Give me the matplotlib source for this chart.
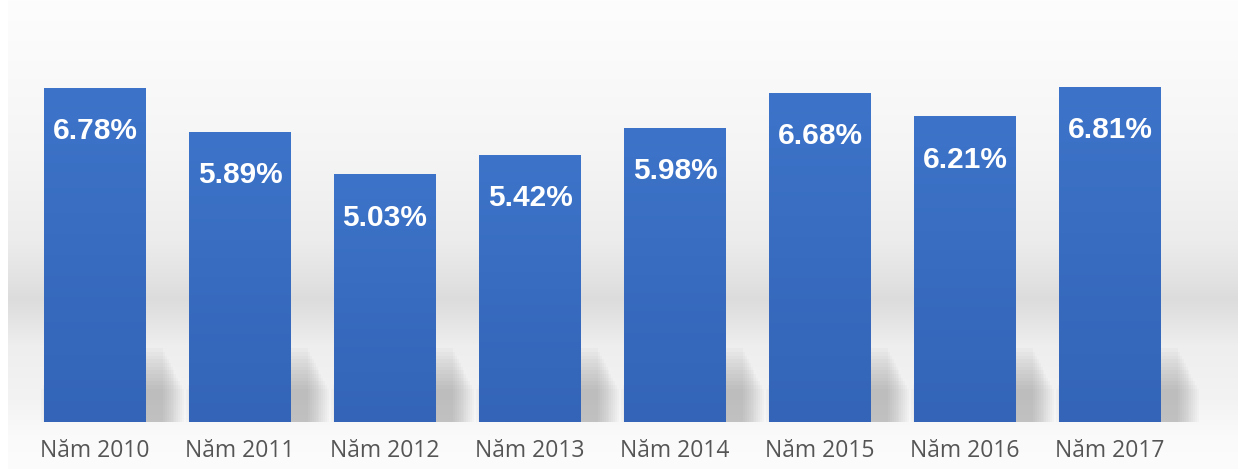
import numpy as np
import matplotlib
matplotlib.use("Agg")
import matplotlib.pyplot as plt
from matplotlib.colors import LinearSegmentedColormap

# Dữ liệu
years = ["Năm 2010", "Năm 2011", "Năm 2012", "Năm 2013",
         "Năm 2014", "Năm 2015", "Năm 2016", "Năm 2017"]
values = [6.78, 5.89, 5.03, 5.42, 5.98, 6.68, 6.21, 6.81]
value_labels = ["6.78%", "5.89%", "5.03%", "5.42%",
                "5.98%", "6.68%", "6.21%", "6.81%"]

W, H = 1238, 469
fig = plt.figure(figsize=(W / 100, H / 100), dpi=100)

# Nền gradient xám nhạt
ax_bg = fig.add_axes([0, 0, 1, 1], zorder=0)
ys = np.array([0, 60, 150, 240, 280, 298, 315, 345, 400, 435, 469])
gs = np.array([253, 250, 245, 236, 226, 220, 226, 238, 243, 250, 252])
prof = np.interp(np.arange(H), ys, gs) / 255.0
bg = np.repeat(prof[:, None], W, axis=1)
bg[:, :8] = 1.0
ax_bg.imshow(np.dstack([bg, bg, bg]), aspect="auto", extent=[0, W, H, 0])
ax_bg.axis("off")

ax = fig.add_axes([0, (H - 422) / H, 1, 422 / H], zorder=1)
ax.set_facecolor("none")

x = np.arange(len(years))
bar_w = 0.70
ax.set_xlim(-0.655, 7.883)
ax.set_ylim(0, 8.57)

# Bóng mờ phía dưới các cột (lệch sang phải)
for xi in x:
    for k in range(12):
        ext = 0.013 * k
        ax.bar(xi + 0.12, 1.5 - 0.075 * k, width=bar_w + 2 * ext, bottom=0,
               color="#6a6a6a", alpha=0.035, linewidth=0, zorder=1)

bar_cmap = LinearSegmentedColormap.from_list("bar", ["#3364b7", "#3d74c9"])
grad = np.linspace(0, 1, 256)[:, None]
bars = ax.bar(x, values, width=bar_w, color="#3a6ec3", linewidth=0, zorder=2)
for b in bars:
    im = ax.imshow(grad, cmap=bar_cmap, aspect="auto", origin="lower",
                   extent=[b.get_x(), b.get_x() + b.get_width(), 0, b.get_height()],
                   zorder=3)
    im.set_clip_path(b)

for xi, v, lab in zip(x, values, value_labels):
    ax.text(xi, v - 0.88, lab, ha="center", va="center", color="white",
            fontsize=21.5, fontweight="bold", family="Liberation Sans", zorder=4)

ax.set_xticks(x)
ax.set_xticklabels(years, fontsize=16.5, color="#555555", family="Open Sans")
ax.tick_params(axis="x", length=0, pad=12)
ax.set_yticks([])
for s in ax.spines.values():
    s.set_visible(False)

fig.savefig("out.png", dpi=100)
